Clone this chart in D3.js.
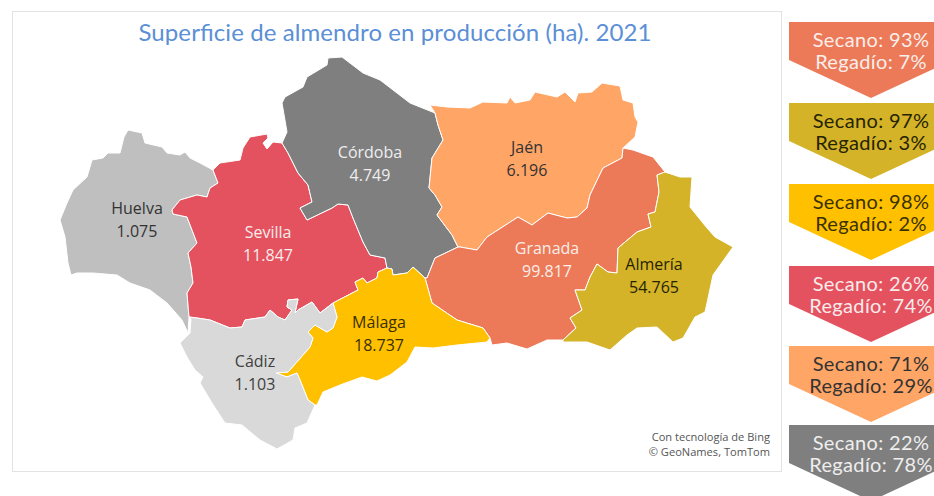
<!DOCTYPE html>
<html lang="es">
<head>
  <title>Superficie de almendro en producción</title>
  <meta charset="utf-8">
  <style>
  body { margin: 0; background: #fff; }
  svg { display: block; }
  .province path { stroke: #fff; stroke-width: 1; stroke-linejoin: round; }
  .label { font-family: "Open Sans", sans-serif; font-size: 16px; text-anchor: middle; }
  .share { font-family: "Lato", sans-serif; font-size: 20px; letter-spacing: 0.35px; text-anchor: middle; }
  </style>
  <script src="https://cdn.jsdelivr.net/npm/d3@7"></script>
</head>
<body>
  <svg width="934" height="496"></svg>
  <script>
  // province values
  var provinces = ["Huelva", "Sevilla", "Córdoba", "Jaén", "Granada", "Almería", "Málaga", "Cádiz"];
  var hectares = [1075, 11847, 4749, 6196, 99817, 54765, 18737, 1103];

  // irrigation split, in the order of the arrows on the right
  var arrowNames = ["Granada", "Almería", "Málaga", "Sevilla", "Jaén", "Córdoba"];
  var secano = [93, 97, 98, 26, 71, 22];
  var regadio = [7, 3, 2, 74, 29, 78];

  // province borders, in map units. Shared borders are kept once.
  var huelvaCoast = [[163,120],[150,113],[140,108],[135,102],[130,105],[117,103],[112,97],[95,93],[92,83],[78,80],[74,87],[70,103],[58,103],[53,108],[42,110],[37,127],[23,140],[17,153],[10,170],[15,187],[18,213],[21,225],[27,223],[43,223],[67,225],[80,233],[100,240],[117,253],[132,270],[138,283]];
  var huelvaSevilla = [[139,267],[137,243],[143,233],[141,217],[138,203],[147,193],[137,167],[123,164],[122,160],[130,150],[147,145],[157,147],[160,138],[168,133],[163,120]];
  var sevillaNorth = [[170,113],[190,110],[193,98],[200,87],[217,84],[218,88],[213,93],[217,99],[223,92],[232,93]];
  var sevillaCordoba = [[232,93],[238,103],[248,123],[258,135],[262,152],[250,158],[257,170],[282,158],[288,154],[298,155],[303,168],[313,192],[320,205],[335,208],[337,218]];
  var sevillaMalaga = [[337,218],[328,222],[327,228],[317,233],[313,228],[305,232],[308,240],[283,253]];
  var sevillaCadiz = [[283,253],[270,263],[262,252],[248,260],[245,263],[248,249],[238,250],[237,257],[242,260],[235,270],[228,267],[220,260],[215,267],[195,270],[192,277],[180,278],[160,270],[147,268],[139,267]];
  var cadizCoast = [[141,269],[140,283],[130,293],[137,307],[145,320],[153,327],[150,333],[162,353],[175,373],[192,375],[210,390],[227,399],[243,390],[245,378],[257,373],[265,355]];
  var cadizMalaga = [[265,355],[258,350],[252,335],[247,323],[237,327],[226,323],[238,322],[260,297],[263,288],[258,282],[265,275],[277,282],[283,278],[287,267],[283,253]];
  var malagaCoast = [[267,355],[273,342],[290,335],[312,327],[327,331],[340,325],[357,312],[365,297],[383,298],[407,295],[437,292],[440,288]];
  var malagaGranada = [[440,288],[433,278],[407,270],[382,253],[375,228]];
  var malagaCordoba = [[375,228],[363,217],[357,223],[343,225],[342,219],[337,218]];
  var cordobaNorth = [[232,93],[237,82],[232,53],[235,47],[253,37],[257,27],[277,15],[278,8],[292,7],[313,23],[330,30],[360,53],[385,63]];
  var cordobaJaen = [[385,63],[388,75],[393,90],[382,108],[379,138],[385,145],[392,157],[387,165],[402,185],[408,197]];
  var cordobaGranada = [[408,197],[385,208],[377,228],[375,228]];
  var jaenNorth = [[380,55],[397,57],[420,58],[433,52],[457,53],[460,47],[465,53],[480,50],[485,42],[507,47],[515,42],[525,52],[528,43],[542,42],[552,33],[570,36],[573,50],[583,53],[585,67],[588,72],[585,87],[573,98]];
  var jaenGranada = [[573,98],[572,108],[553,118],[540,145],[537,158],[527,167],[517,168],[498,163],[482,175],[468,167],[437,187],[427,200],[410,197],[408,197]];
  var granadaNorth = [[583,100],[603,107],[615,122]];
  var granadaAlmeria = [[615,122],[607,125],[609,142],[605,162],[598,164],[601,177],[587,182],[568,198],[567,223],[558,222],[547,214],[540,227],[535,240],[525,240],[532,260],[520,268],[526,278],[513,290]];
  var granadaCoast = [[497,290],[477,299],[457,293],[442,295],[440,288]];
  var almeriaCoast = [[630,127],[642,127],[640,157],[657,178],[665,187],[683,197],[663,225],[657,253],[655,262],[645,267],[633,288],[623,292],[607,277],[587,278],[577,285],[560,300],[537,292],[513,292]];

  function rev(arc) { return arc.slice().reverse(); }

  var rings = {
    "Huelva": [huelvaCoast, huelvaSevilla],
    "Sevilla": [huelvaSevilla, sevillaNorth, sevillaCordoba, sevillaMalaga, sevillaCadiz],
    "Córdoba": [cordobaNorth, cordobaJaen, cordobaGranada, malagaCordoba, rev(sevillaCordoba)],
    "Jaén": [jaenNorth, jaenGranada, rev(cordobaJaen)],
    "Granada": [granadaNorth, granadaAlmeria, granadaCoast, malagaGranada, rev(cordobaGranada), rev(jaenGranada)],
    "Almería": [almeriaCoast, rev(granadaAlmeria)],
    "Málaga": [malagaCoast, malagaGranada, malagaCordoba, sevillaMalaga, rev(cadizMalaga)],
    "Cádiz": [cadizCoast, cadizMalaga, sevillaCadiz]
  };

  var fill = d3.scaleOrdinal()
      .domain(provinces)
      .range(["#bfbfbf", "#e5525f", "#7f7f7f", "#ffa566", "#ec7a58", "#d5b329", "#ffc000", "#d9d9d9"]);

  var textColor = d3.scaleOrdinal()
      .domain(provinces)
      .range(["#333333", "#f7ecec", "#eeeeee", "#333333", "#f9eeea", "#262400", "#3a3000", "#404040"]);

  // where each province's name sits, in map units
  var labelAt = {
    "Huelva": [87, 159], "Sevilla": [218, 183], "Córdoba": [320, 103], "Jaén": [477, 98],
    "Granada": [497, 199], "Almería": [604, 215], "Málaga": [329, 273], "Cádiz": [205, 312]
  };

  var svg = d3.select("svg");

  var x = d3.scaleLinear().domain([0, 700]).range([50, 750]);
  var y = d3.scaleLinear().domain([0, 420]).range([50, 470]);

  var line = d3.line()
      .x(function(d) { return x(d[0]); })
      .y(function(d) { return y(d[1]); });

  svg.append("rect")
      .attr("x", 12.5)
      .attr("y", 11.5)
      .attr("width", 769)
      .attr("height", 460)
      .attr("fill", "#fff")
      .attr("stroke", "#e3e3e3");

  svg.append("text")
      .attr("x", 395)
      .attr("y", 41)
      .attr("text-anchor", "middle")
      .attr("font-family", "Lato, sans-serif")
      .attr("font-size", 24)
      .attr("fill", "#5b8fd6")
      .attr("textLength", 513)
      .text("Superficie de almendro en producción (ha). 2021");

  var data = provinces.map(function(name, i) { return {name: name, ha: hectares[i]}; });
  var es = d3.formatLocale({decimal: ",", thousands: ".", grouping: [3], currency: ["", " €"]}).format(",d");

  svg.append("g")
      .attr("class", "province")
    .selectAll("path")
    .data(data)
    .enter().append("path")
      .attr("d", function(d) { return line(d3.merge(rings[d.name])) + "Z"; })
      .attr("fill", function(d) { return fill(d.name); });

  var label = svg.append("g").selectAll("text")
    .data(data)
    .enter().append("text")
      .attr("class", "label")
      .attr("fill", function(d) { return textColor(d.name); })
      .attr("transform", function(d) { return "translate(" + x(labelAt[d.name][0]) + "," + y(labelAt[d.name][1]) + ")"; });

  label.append("tspan").attr("x", 0).attr("y", 5).text(function(d) { return d.name; });
  label.append("tspan").attr("x", 0).attr("y", 28).text(function(d) { return es(d.ha); });

  svg.append("text")
      .attr("x", 770)
      .attr("y", 441)
      .attr("text-anchor", "end")
      .attr("font-family", "'Open Sans', sans-serif")
      .attr("font-size", 11.1)
      .attr("fill", "#555")
      .text("Con tecnología de Bing");

  svg.append("text")
      .attr("x", 770)
      .attr("y", 456)
      .attr("text-anchor", "end")
      .attr("font-family", "'Open Sans', sans-serif")
      .attr("font-size", 11.1)
      .attr("fill", "#555")
      .text("© GeoNames, TomTom");

  // arrows on the right, wider than the window so the right side is cut off as in the original
  var arrowY = d3.scaleOrdinal().domain(arrowNames).range([22, 103, 184, 266, 346, 425]);

  var arrow = svg.append("g").selectAll("g")
    .data(arrowNames.map(function(name, i) { return {name: name, secano: secano[i], regadio: regadio[i]}; }))
    .enter().append("g")
      .attr("transform", function(d) { return "translate(789," + arrowY(d.name) + ")"; });

  arrow.append("path")
      .attr("d", "M0,0H164V38L82,76L0,38Z")
      .attr("fill", function(d) { return fill(d.name); });

  arrow.append("text")
      .attr("class", "share")
      .attr("x", 82)
      .attr("y", 25)
      .attr("fill", function(d) { return textColor(d.name); })
      .text(function(d) { return "Secano: " + d.secano + "%"; });

  arrow.append("text")
      .attr("class", "share")
      .attr("x", 82)
      .attr("y", 47)
      .attr("fill", function(d) { return textColor(d.name); })
      .text(function(d) { return "Regadío: " + d.regadio + "%"; });
  </script>
</body>
</html>
